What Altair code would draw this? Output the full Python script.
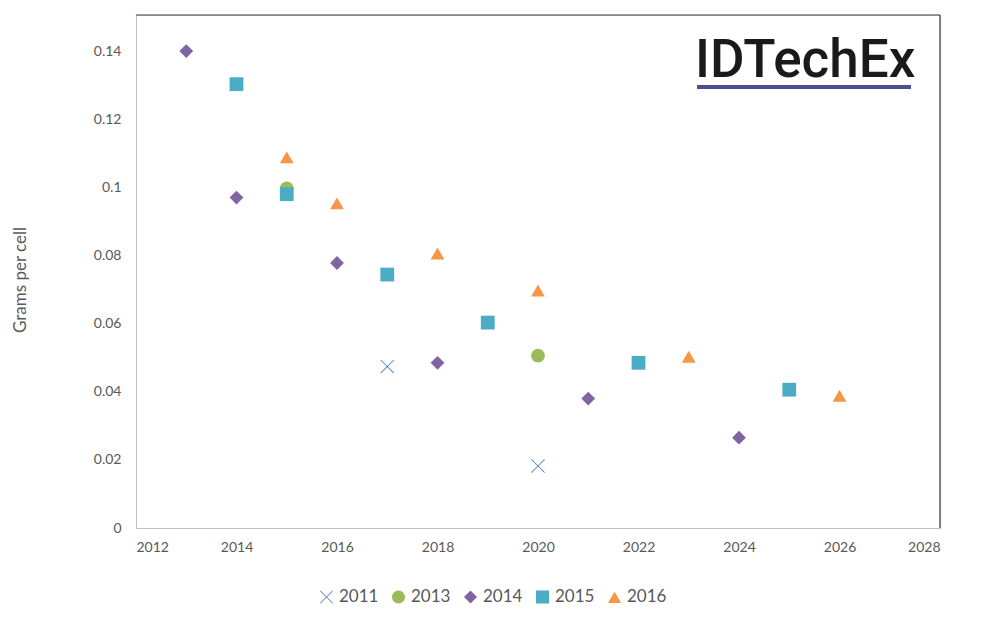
import altair as alt
import pandas as pd

# Data
years_2011 = [2017, 2020]
vals_2011 = [0.0474, 0.0182]
years_2013 = [2015, 2020]
vals_2013 = [0.0997, 0.0506]
years_2014 = [2013, 2014, 2016, 2018, 2021, 2024]
vals_2014 = [0.1400, 0.0970, 0.0778, 0.0485, 0.0380, 0.0265]
years_2015 = [2014, 2015, 2017, 2019, 2022, 2025]
vals_2015 = [0.1303, 0.0980, 0.0744, 0.0603, 0.0485, 0.0406]
years_2016 = [2015, 2016, 2018, 2020, 2023, 2026]
vals_2016 = [0.1088, 0.0953, 0.0806, 0.0697, 0.0503, 0.0388]

series_names = ["2011", "2013", "2014", "2015", "2016"]
series_colors = ["#4F81BD", "#9BBB59", "#8064A2", "#4BACC6", "#F79646"]

x_ticks = list(range(2012, 2029, 2))
y_ticks = [0, 0.02, 0.04, 0.06, 0.08, 0.1, 0.12, 0.14]

rows = []
for name, ys, vs in [("2011", years_2011, vals_2011), ("2013", years_2013, vals_2013),
                     ("2014", years_2014, vals_2014), ("2015", years_2015, vals_2015),
                     ("2016", years_2016, vals_2016)]:
    for y, v in zip(ys, vs):
        rows.append({"series": name, "year": y, "value": v})
df = pd.DataFrame(rows)

# thin "X" marker as a polygon
a = 0.09
xpath = (f"M-1,{-1+a}L{-1+a},-1L0,{-a}L{1-a},-1L1,{-1+a}L{a},0L1,{1-a}L{1-a},1L0,{a}"
         f"L{-1+a},1L-1,{1-a}L{-a},0Z")
shapes = [xpath, "circle", "diamond", "square", "triangle-up"]

W, H = 804, 513
FONT = "Lato"
GREY = "#595959"

points = alt.Chart(df).mark_point(filled=True, opacity=1, size=190).encode(
    x=alt.X("year:Q",
            scale=alt.Scale(domain=[2012, 2028], nice=False, zero=False),
            axis=alt.Axis(values=x_ticks, format="d", title=None, grid=False,
                          ticks=False, domainColor="#BFBFBF", labelColor=GREY,
                          labelFont=FONT, labelFontSize=14, labelPadding=12)),
    y=alt.Y("value:Q",
            scale=alt.Scale(domain=[0, 0.1506], nice=False),
            axis=alt.Axis(values=y_ticks, format=".2~f", title="Grams per cell",
                          grid=False, ticks=False, domainColor="#BFBFBF",
                          labelColor=GREY, labelFont=FONT, labelFontSize=14,
                          labelPadding=15, titleFont=FONT, titleFontSize=17,
                          titleFontWeight="normal", titleColor=GREY,
                          titleX=-116, titleY=H / 2 + 8, titleAngle=-90,
                          titleAlign="center", titleBaseline="middle")),
    color=alt.Color("series:N",
                    scale=alt.Scale(domain=series_names, range=series_colors),
                    legend=alt.Legend(title=None, orient="none", direction="horizontal",
                                      legendX=182, legendY=573, labelFont=FONT,
                                      labelFontSize=17, labelColor=GREY,
                                      symbolSize=170, columnPadding=9,
                                      labelOffset=4, symbolOpacity=1)),
    shape=alt.Shape("series:N", scale=alt.Scale(domain=series_names, range=shapes)),
)

top_line = alt.Chart(pd.DataFrame({"k": [0]})).mark_rule(color="#2E3A44", strokeWidth=1.2).encode(
    x=alt.value(0), x2=alt.value(W), y=alt.value(0))
right_line = alt.Chart(pd.DataFrame({"k": [0]})).mark_rule(color="#2E3A44", strokeWidth=1.2).encode(
    x=alt.value(W), y=alt.value(0), y2=alt.value(H))

logo_text = alt.Chart(pd.DataFrame({"t": ["IDTechEx"]})).mark_text(
    font="Roboto", fontSize=53, fontWeight=500, color="#1A1A1A",
    align="left", baseline="alphabetic").encode(text="t:N", x=alt.value(559), y=alt.value(62))
logo_bar = alt.Chart(pd.DataFrame({"k": [0]})).mark_rule(color="#4B4F8F", strokeWidth=4).encode(
    x=alt.value(561), x2=alt.value(775), y=alt.value(72))

chart = alt.layer(points, top_line, right_line, logo_text, logo_bar).properties(
    width=W, height=H,
    autosize=alt.AutoSizeParams(type="none"),
    padding={"left": 128, "top": 7, "right": 30, "bottom": 85},
).configure_view(stroke=None).configure(background="white")

chart.save("out.html", embed_options={"renderer": "svg", "actions": False})
